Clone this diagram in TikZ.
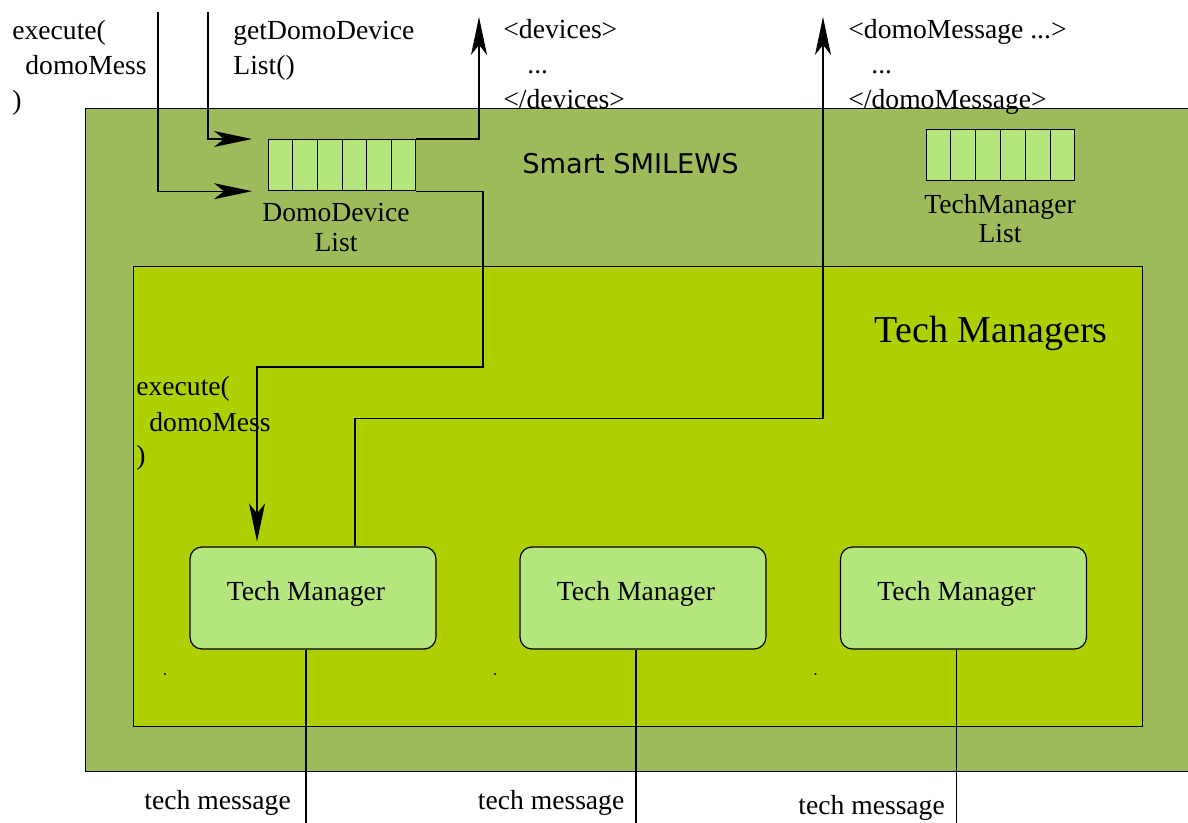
\documentclass[tikz,border=0pt]{standalone}
\usepackage{fontspec}
\setmainfont{Liberation Serif}
\newfontfamily\sansdv{DejaVu Sans}
\usetikzlibrary{arrows.meta,calc}

\definecolor{outerg}{RGB}{157,187,90}
\definecolor{innerg}{RGB}{175,207,0}
\definecolor{cellg}{RGB}{181,229,125}

\tikzset{
  container/.style={draw=black, line width=0.6pt, anchor=north west, inner sep=0pt},
  listbox/.style={draw=black, line width=0.6pt, fill=cellg, anchor=north west, inner sep=0pt,
    minimum height=25.5pt},
  mgrbox/.style={draw=black, line width=0.6pt, fill=cellg, rounded corners=6pt,
    minimum width=123pt, minimum height=51pt, inner sep=0pt},
  txt/.style={anchor=base west, inner sep=0pt, font=\fontsize{13.8}{16}\selectfont},
  ctxt/.style={anchor=base, inner sep=0pt, font=\fontsize{13.8}{16}\selectfont},
  wire/.style={draw=black, line width=0.55pt},
  arr/.style={wire, -{Stealth[length=19pt, width=8pt, inset=5pt]}},
}

\newcommand{\cellsplit}[1]{%
  \foreach \i in {1,...,5}
    \draw[line width=0.6pt] ($(#1.north west)!\i/6!(#1.north east)$) --
                            ($(#1.south west)!\i/6!(#1.south east)$);}

\begin{document}
\begin{tikzpicture}[x=0.5pt, y=-0.5pt]
\useasboundingbox (0,0) rectangle (1188,823);

% containers
\node[container, fill=outerg, minimum width=560pt, minimum height=331.5pt] (smart) at (85,108) {};
\node[container, fill=innerg, minimum width=504.5pt, minimum height=230pt] (mgrs) at (133,266) {};

% lists
\node[listbox, minimum width=73.5pt] (dl) at (268,139) {};
\cellsplit{dl}
\node[listbox, minimum width=74pt] (tl) at (926,129) {};
\cellsplit{tl}

% tech manager boxes
\node[mgrbox] (tm1) at (313,598) {};
\node[mgrbox] (tm2) at (643,598) {};
\node[mgrbox] (tm3) at (963.5,598) {};

% free ends of the connectors
\coordinate (in1) at (158,12);
\coordinate (in2) at (208,12);
\coordinate (out1) at (479,17);
\coordinate (out2) at (823,17);
\coordinate (bend) at (483,367);
\coordinate (bot1) at (306,823);
\coordinate (bot2) at (636,823);
\coordinate (bot3) at (956.5,823);

% connectors
\draw[arr] (in1) |- ([xshift=-8pt]dl.south west);
\draw[arr] (in2) |- ([xshift=-8pt]dl.north west);
\draw[arr] (dl.north east) -| (out1);
\draw[arr] (dl.south east) -| (bend) -| ([xshift=-28pt, yshift=2.5pt]tm1.north);
\draw[arr] ([xshift=21pt]tm1.north) -- ++(0,-128) -| (out2);
\draw[wire] ([xshift=-3.5pt]tm1.south) -- (bot1);
\draw[wire] ([xshift=-3.5pt]tm2.south) -- (bot2);
\draw[wire] ([xshift=-3.5pt]tm3.south) -- (bot3);

% small dots under the managers
\fill (165,674) circle (0.6pt);
\fill (495,674) circle (0.6pt);
\fill (815.5,674) circle (0.6pt);

% titles
\node[anchor=base west, inner sep=0pt, font=\sansdv\fontsize{13.6}{16}\selectfont] (ttl1) at (522,174) {Smart SMILEWS};
\node[anchor=base east, inner sep=0pt, font=\fontsize{19}{22}\selectfont] (ttl2) at (1108,343) {Tech Managers};

% list captions
\node[ctxt] (dlc1) at (336,222) {DomoDevice};
\node[ctxt] (dlc2) at (336,252) {List};
\node[ctxt] (tlc1) at (1000,214) {TechManager};
\node[ctxt] (tlc2) at (1000,243) {List};

% manager captions
\node[ctxt] (tmt1) at (306,600) {Tech Manager};
\node[ctxt] (tmt2) at (636,600) {Tech Manager};
\node[ctxt] (tmt3) at (956.5,600) {Tech Manager};

% call labels
\node[txt] (e1) at (12,40) {execute(};
\node[txt] (e2) at (25,75) {domoMess};
\node[txt] (e3) at (12,110) {)};
\node[txt] (g1) at (233,40) {getDomoDevice};
\node[txt] (g2) at (233,75) {List()};
\node[txt] (d1) at (503,39) {<devices>};
\node[txt] (d2) at (527,74) {...};
\node[txt] (d3) at (503,109) {</devices>};
\node[txt] (m1) at (848,39) {<domoMessage ...>};
\node[txt] (m2) at (871,74) {...};
\node[txt] (m3) at (848,109) {</domoMessage>};
\node[txt] (x1) at (136,395) {execute(};
\node[txt] (x2) at (149,431) {domoMess};
\node[txt] (x3) at (136,465) {)};

% message labels
\node[txt] (tm1l) at (144,809) {tech message};
\node[txt] (tm2l) at (477.5,809) {tech message};
\node[txt] (tm3l) at (798,814) {tech message};
\end{tikzpicture}
\end{document}
